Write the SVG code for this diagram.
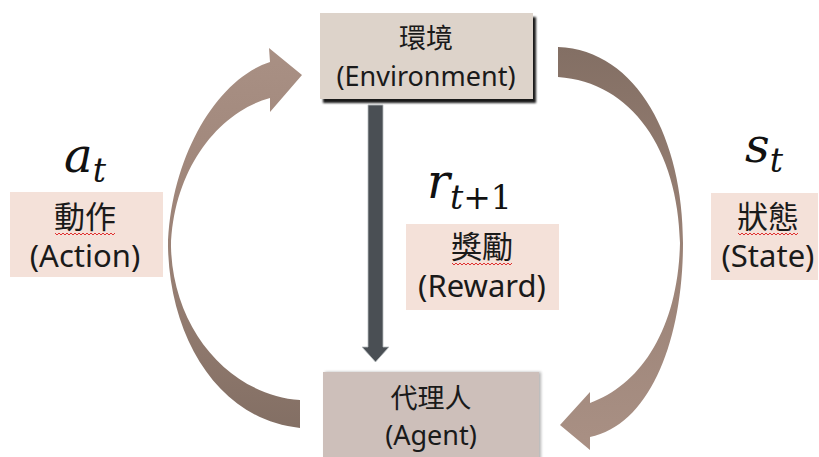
<svg xmlns="http://www.w3.org/2000/svg" width="819" height="457" viewBox="0 0 819 457">
<style>
.lbl{font-family:"Noto Sans","Noto Sans CJK TC",sans-serif;fill:#1a1a1a;text-anchor:middle}
.node{font-size:27px}
.edge{font-size:31px}
.math{font-family:"DejaVu Serif","Liberation Serif",serif;fill:#111}
.it{font-style:italic}
.squig{fill:none;stroke:#e03030;stroke-width:1}
</style>
<defs>
<linearGradient id="gl" x1="0" y1="0" x2="0" y2="1">
<stop offset="0" stop-color="#a99084"/><stop offset="0.5" stop-color="#9c8377"/><stop offset="1" stop-color="#836f64"/>
</linearGradient>
<linearGradient id="gr" x1="0" y1="0" x2="0" y2="1">
<stop offset="0" stop-color="#836f64"/><stop offset="0.5" stop-color="#9a8276"/><stop offset="1" stop-color="#a99084"/>
</linearGradient>
<filter id="sh" x="-10%" y="-10%" width="130%" height="140%">
<feGaussianBlur in="SourceAlpha" stdDeviation="1.2"/>
<feOffset dx="3" dy="4" result="o"/>
<feComponentTransfer><feFuncA type="linear" slope="0.9"/></feComponentTransfer>
<feMerge><feMergeNode/><feMergeNode in="SourceGraphic"/></feMerge>
</filter>
<filter id="sh2" x="-10%" y="-10%" width="130%" height="140%">
<feGaussianBlur in="SourceAlpha" stdDeviation="1.5"/>
<feOffset dx="2" dy="0" result="o"/>
<feComponentTransfer><feFuncA type="linear" slope="0.3"/></feComponentTransfer>
<feMerge><feMergeNode/><feMergeNode in="SourceGraphic"/></feMerge>
</filter>
</defs>
<rect width="819" height="457" fill="#ffffff"/>

<g id="connectors">
<path id="action-arrow" fill="url(#gl)" d="M300,428 C220,420 170,340 168,247 C170,160 215,80 270,62 L269,48 L302,75 L270,112 L270,98 C218,112 173,170 171,247 C173,330 230,395 300,400 Z"/>
<path id="state-arrow" fill="url(#gr)" d="M558,47 C638,50 683,140 683,243 C683,340 650,425 590,437 L590,450 L560,425 L590,392 L590,403 C640,385 678,330 680,243 C678,150 632,82 558,77 Z"/>
<path id="reward-arrow" fill="#4a4f54" stroke="#b8bcbf" stroke-width="0.8" d="M368,105 L383,105 L383,347 L389,347 L375.5,362 L362,347 L368,347 Z"/>
</g>

<g id="environment">
<rect x="320" y="13" width="213" height="86" fill="#ddd3ca" filter="url(#sh)"/>
<text class="lbl node" x="426" y="48">環境</text>
<text class="lbl node" x="426" y="86">(Environment)</text>
</g>

<g id="agent">
<rect x="323" y="372" width="216" height="90" fill="#cdbfba" filter="url(#sh2)"/>
<text class="lbl node" x="431" y="408">代理人</text>
<text class="lbl node" x="431" y="445">(Agent)</text>
</g>

<g id="action">
<text class="math" x="64" y="172" font-size="48"><tspan class="it">a</tspan><tspan class="it" font-size="33" dy="10">t</tspan></text>
<rect x="10" y="192" width="153" height="85" fill="#f4e1d9"/>
<text class="lbl edge" x="85" y="228">動作</text>
<path class="squig" d="M55,233 l2,2 l2,-2 l2,2 l2,-2 l2,2 l2,-2 l2,2 l2,-2 l2,2 l2,-2 l2,2 l2,-2 l2,2 l2,-2 l2,2 l2,-2 l2,2 l2,-2 l2,2 l2,-2 l2,2 l2,-2 l2,2 l2,-2 l2,2 l2,-2 l2,2 l2,-2 l2,2 l2,-2"/>
<text class="lbl edge" x="85" y="267">(Action)</text>
</g>

<g id="state">
<text class="math" x="745" y="162" font-size="48"><tspan class="it">s</tspan><tspan class="it" font-size="33" dy="10">t</tspan></text>
<rect x="711" y="193" width="107" height="87" fill="#f4e1d9"/>
<text class="lbl edge" x="768" y="228">狀態</text>
<path class="squig" d="M738,233 l2,2 l2,-2 l2,2 l2,-2 l2,2 l2,-2 l2,2 l2,-2 l2,2 l2,-2 l2,2 l2,-2 l2,2 l2,-2 l2,2 l2,-2 l2,2 l2,-2 l2,2 l2,-2 l2,2 l2,-2 l2,2 l2,-2 l2,2 l2,-2 l2,2 l2,-2 l2,2 l2,-2"/>
<text class="lbl edge" x="768" y="267">(State)</text>
</g>

<g id="reward">
<text class="math" x="427" y="198" font-size="48"><tspan class="it">r</tspan><tspan font-size="33" dy="11"><tspan class="it">t</tspan>+1</tspan></text>
<rect x="406" y="224" width="153" height="86" fill="#f4e1d9"/>
<text class="lbl edge" x="482" y="258">獎勵</text>
<path class="squig" d="M452,263 l2,2 l2,-2 l2,2 l2,-2 l2,2 l2,-2 l2,2 l2,-2 l2,2 l2,-2 l2,2 l2,-2 l2,2 l2,-2 l2,2 l2,-2 l2,2 l2,-2 l2,2 l2,-2 l2,2 l2,-2 l2,2 l2,-2 l2,2 l2,-2 l2,2 l2,-2 l2,2 l2,-2"/>
<text class="lbl edge" x="482" y="297">(Reward)</text>
</g>
</svg>
